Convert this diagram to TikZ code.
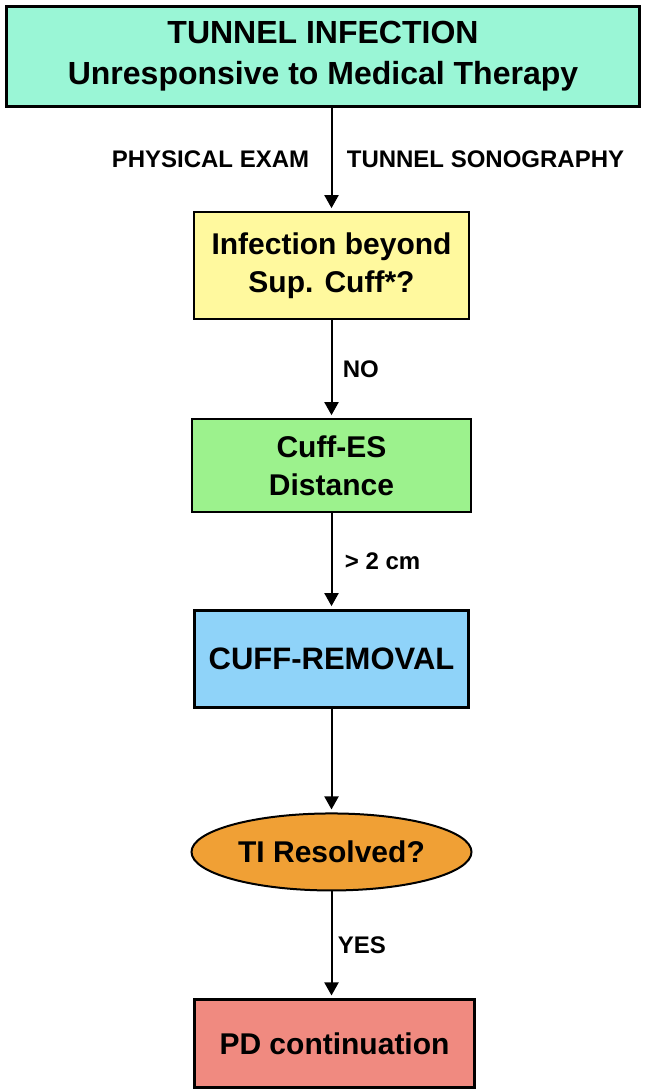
\documentclass[tikz,border=0pt]{standalone}
\usepackage{fontspec}
\setmainfont{Liberation Sans}
\usetikzlibrary{arrows.meta,positioning,shapes.geometric}

\definecolor{tunnelmint}{HTML}{9AF6D6}
\definecolor{askyellow}{HTML}{FFF99E}
\definecolor{distgreen}{HTML}{9CF28D}
\definecolor{cuffblue}{HTML}{8FD3F9}
\definecolor{resorange}{HTML}{F0A035}
\definecolor{pdred}{HTML}{F08A80}

\begin{document}
\begin{tikzpicture}[->,>={Triangle[length=13pt,width=14pt]},shorten >=3pt,auto,
                        line width=2pt,
                        box/.style={draw,rectangle,line width=2pt,align=center,inner sep=0pt,
                                    font=\bfseries\fontsize{30}{38}\selectfont},
                        lbl/.style={font=\bfseries\fontsize{24}{28}\selectfont}]

        \useasboundingbox (0pt,0pt) rectangle (646pt,-1092pt);

        \node[box,fill=tunnelmint,line width=3.3pt,minimum width=633pt,minimum height=100pt,
              font=\bfseries\fontsize{32}{41}\selectfont] (ti) at (323pt,-56.5pt)
              {TUNNEL INFECTION\\Unresponsive to Medical Therapy};
        \node[box,fill=askyellow,minimum width=275pt,minimum height=107pt] (beyond)
              [below=103pt of ti,xshift=8.5pt] {Infection beyond\\Sup. Cuff*?};
        \node[box,fill=distgreen,minimum width=279pt,minimum height=93pt] (dist)
              [below=98pt of beyond] {Cuff-ES\\Distance};
        \node[box,fill=cuffblue,line width=3.3pt,minimum width=274pt,minimum height=97pt,
              font=\bfseries\fontsize{31}{38}\selectfont] (removal)
              [below=96pt of dist] {CUFF-REMOVAL};
        \node[box,ellipse,fill=resorange,minimum width=280pt,minimum height=77pt] (resolved)
              [below=103pt of removal] {TI Resolved?};
        \node[box,fill=pdred,line width=2.5pt,minimum width=280pt,minimum height=88pt] (pd)
              [below=107pt of resolved,xshift=3pt] {PD continuation};

        \path (ti.south -| beyond.north) edge node[lbl,left=18pt] {PHYSICAL EXAM}
                                              node[lbl,right=11pt] {TUNNEL SONOGRAPHY} (beyond)
              (beyond) edge node[lbl,right=7pt] {NO} (dist)
              (dist) edge node[lbl,right=9pt] {> 2 cm} (removal)
              (removal) edge (resolved)
              (resolved) edge node[lbl,right=2pt] {YES} (pd.north -| resolved.south);
    \end{tikzpicture}
\end{document}
